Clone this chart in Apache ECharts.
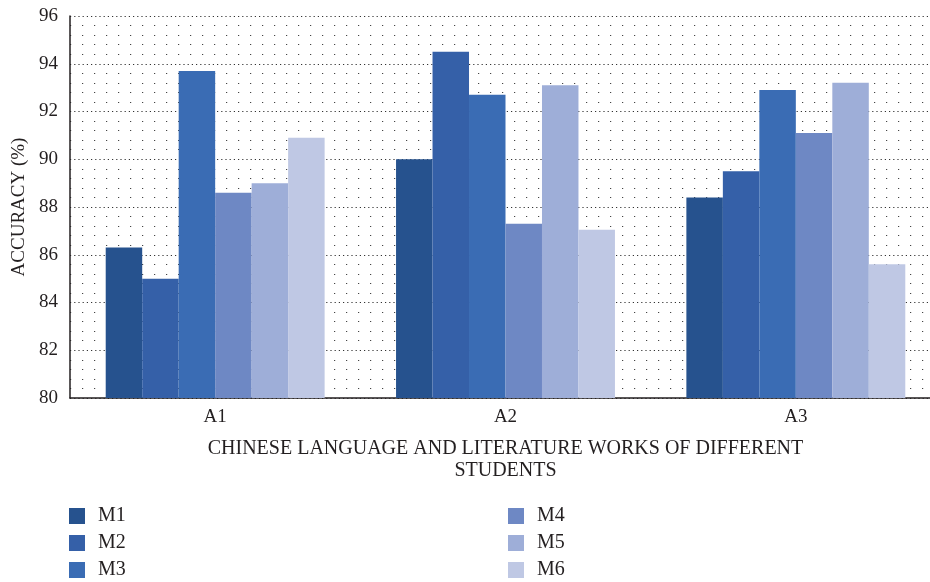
<!DOCTYPE html>
<html><head><meta charset="utf-8">
<script src="https://cdn.jsdelivr.net/npm/echarts@6/dist/echarts.min.js"></script>
<style>html,body{margin:0;padding:0;background:#fff}#c{width:930px;height:582px}</style>
</head><body><div id="c"></div>
<script>
const categories = ['A1', 'A2', 'A3'];
const seriesNames = ['M1', 'M2', 'M3', 'M4', 'M5', 'M6'];
const M1 = [86.3, 90.0, 88.4];
const M2 = [85.0, 94.5, 89.5];
const M3 = [93.7, 92.7, 92.9];
const M4 = [88.6, 87.3, 91.1];
const M5 = [89.0, 93.1, 93.2];
const M6 = [90.9, 87.05, 85.6];
const yTicks = [80, 82, 84, 86, 88, 90, 92, 94, 96];
const colors = ['#26528e', '#3560a8', '#3a6cb4', '#6e88c4', '#9eaed8', '#bfc8e4'];
const values = [M1, M2, M3, M4, M5, M6];
const font = 'Liberation Serif';
const txt = '#231f20';

const chart = echarts.init(document.getElementById('c'));
const legendText = { fontFamily: font, fontSize: 20, color: txt, padding: [0, 0, 0, 8] };
chart.setOption({
  animation: false,
  grid: { left: 70, right: -11, top: 16, bottom: 184, outerBoundsMode: 'none', containLabel: false },
  legend: [
    { data: seriesNames.slice(0, 3), orient: 'vertical', left: 64, top: 501, height: 90, itemWidth: 16, itemHeight: 16, itemGap: 7, icon: 'rect',
      textStyle: legendText },
    { data: seriesNames.slice(3), orient: 'vertical', left: 503, top: 501, height: 90, itemWidth: 16, itemHeight: 16, itemGap: 7, icon: 'rect',
      textStyle: legendText }
  ],
  xAxis: {
    type: 'category', data: categories,
    name: 'CHINESE LANGUAGE AND LITERATURE WORKS OF DIFFERENT\nSTUDENTS',
    nameLocation: 'middle', nameGap: 40,
    nameTextStyle: { fontFamily: font, fontSize: 20, color: txt, lineHeight: 22 },
    axisLine: { lineStyle: { color: '#231f20', width: 1.5 } },
    axisTick: { show: false },
    axisLabel: { fontFamily: font, fontSize: 19, color: txt, margin: 10 }
  },
  yAxis: {
    type: 'value', min: yTicks[0], max: yTicks[yTicks.length - 1], interval: 2,
    name: 'ACCURACY (%)', nameLocation: 'middle', nameGap: 39,
    nameTextStyle: { fontFamily: font, fontSize: 19, color: txt },
    axisLine: { show: true, lineStyle: { color: '#231f20', width: 1.5 } },
    axisTick: { show: false },
    axisLabel: { fontFamily: font, fontSize: 19, color: txt, margin: 12 },
    splitLine: { show: true, lineStyle: { color: '#333', width: 1.2, type: [1.2, 3] } },
    minorTick: { show: false, splitNumber: 5 },
    minorSplitLine: { show: true, lineStyle: { color: '#444', width: 1.2, type: [1.2, 10.8] } }
  },
  series: seriesNames.map((n, i) => ({
    name: n, type: 'bar', data: values[i], barGap: '0%', barCategoryGap: '24.6%',
    itemStyle: { color: colors[i] }
  }))
});
</script></body></html>
